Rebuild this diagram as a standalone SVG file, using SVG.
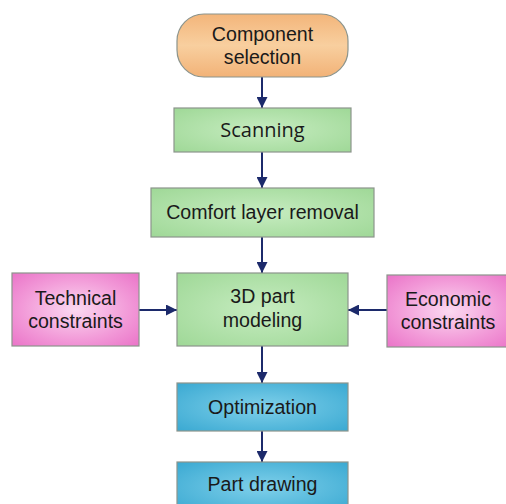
<svg xmlns="http://www.w3.org/2000/svg" width="506" height="504" viewBox="0 0 506 504">
<defs>
<linearGradient id="gOr" x1="0" y1="0" x2="0" y2="1"><stop offset="0" stop-color="#f3b57a"/><stop offset="0.5" stop-color="#f8cf9f"/><stop offset="1" stop-color="#f2b277"/></linearGradient>
<radialGradient id="gGr" cx="0.5" cy="0.5" r="0.7"><stop offset="0" stop-color="#c6ecc0"/><stop offset="1" stop-color="#9fd897"/></radialGradient>
<radialGradient id="gPk" cx="0.5" cy="0.5" r="0.7"><stop offset="0" stop-color="#fbd9f1"/><stop offset="0.6" stop-color="#f29ad8"/><stop offset="1" stop-color="#ea74c8"/></radialGradient>
<radialGradient id="gBl" cx="0.5" cy="0.5" r="0.7"><stop offset="0" stop-color="#7fd0ea"/><stop offset="1" stop-color="#3aa9d2"/></radialGradient>
<marker id="ah" viewBox="0 0 10 10" refX="10" refY="5" markerWidth="11" markerHeight="11" markerUnits="userSpaceOnUse" orient="auto"><path d="M0,0 L10,5 L0,10 z" fill="#1c2a6b"/></marker>
</defs>
<style>
.box{stroke:#8c948c;stroke-width:1.2}
.t{font-family:"Liberation Sans",Arial,sans-serif;font-size:19.6px;fill:#1a1a1a;text-anchor:middle}
.c{font-family:"Open Sans",sans-serif;font-size:20px;fill:#1a1a1a;text-anchor:middle}
.e{stroke:#1c2a6b;stroke-width:2;fill:none;marker-end:url(#ah)}
</style>
<rect width="506" height="504" fill="#ffffff"/>
<g id="connectors">
<line class="e" x1="262" y1="77" x2="262" y2="108"/>
<line class="e" x1="262" y1="152" x2="262" y2="188"/>
<line class="e" x1="262" y1="237" x2="262" y2="273"/>
<line class="e" x1="139" y1="310" x2="177" y2="310"/>
<line class="e" x1="387" y1="310" x2="348" y2="310"/>
<line class="e" x1="262" y1="346" x2="262" y2="383"/>
<line class="e" x1="262" y1="431" x2="262" y2="462"/>
</g>
<g id="component-selection">
<rect class="box" x="177" y="14" width="171" height="63" rx="27" fill="url(#gOr)"/>
<text class="t" x="262.5" y="41">Component</text>
<text class="t" x="262.5" y="64">selection</text>
</g>
<g id="scanning">
<rect class="box" x="174" y="108" width="177" height="44" fill="url(#gGr)"/>
<text class="c" x="262.5" y="137">Scanning</text>
</g>
<g id="comfort-layer-removal">
<rect class="box" x="151" y="188" width="223" height="49" fill="url(#gGr)"/>
<text class="t" x="262.5" y="219">Comfort layer removal</text>
</g>
<g id="part-modeling">
<rect class="box" x="177" y="273" width="171" height="73" fill="url(#gGr)"/>
<text class="t" x="262.5" y="303">3D part</text>
<text class="t" x="262.5" y="327">modeling</text>
</g>
<g id="technical-constraints">
<rect class="box" x="12" y="273" width="127" height="73" fill="url(#gPk)"/>
<text class="t" x="75.5" y="305">Technical</text>
<text class="t" x="75.5" y="328">constraints</text>
</g>
<g id="economic-constraints">
<rect class="box" x="387" y="275" width="125" height="72" fill="url(#gPk)"/>
<text class="t" x="448" y="306">Economic</text>
<text class="t" x="448" y="329">constraints</text>
</g>
<g id="optimization">
<rect class="box" x="177" y="383" width="171" height="48" fill="url(#gBl)"/>
<text class="t" x="262.5" y="414">Optimization</text>
</g>
<g id="part-drawing">
<rect class="box" x="177" y="462" width="171" height="50" fill="url(#gBl)"/>
<text class="t" x="262.5" y="491">Part drawing</text>
</g>
</svg>
